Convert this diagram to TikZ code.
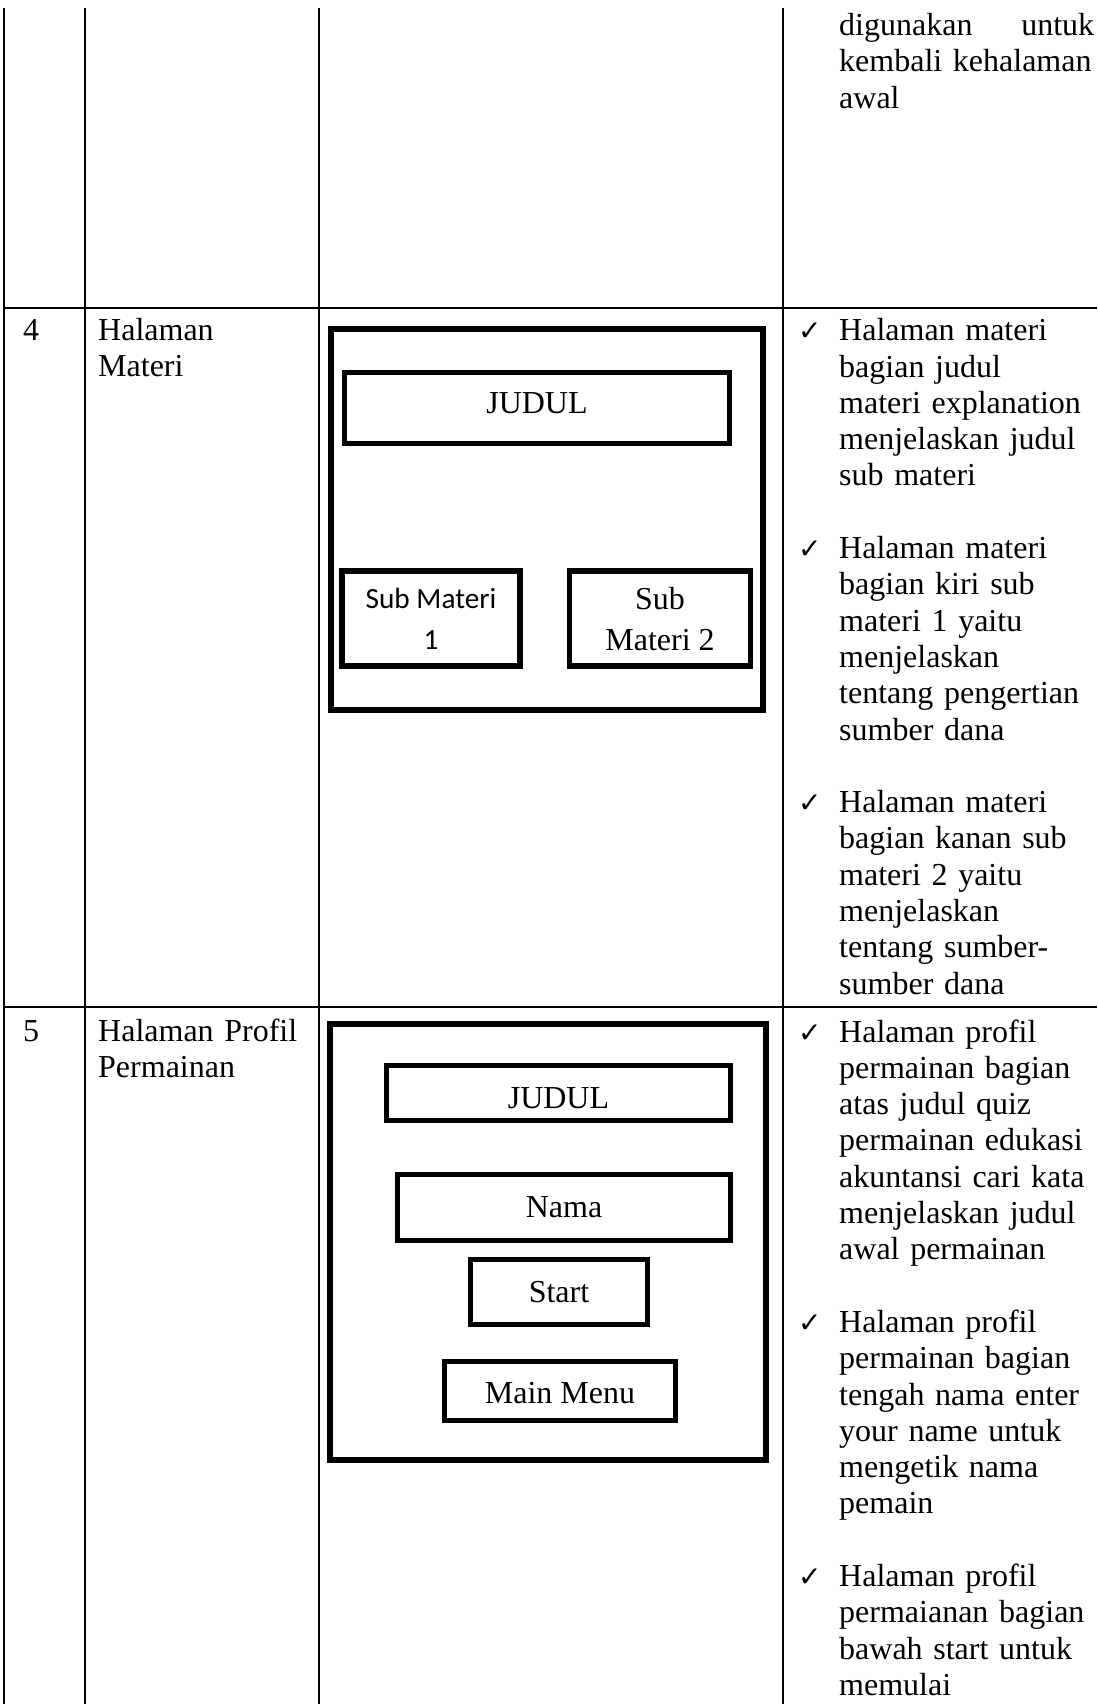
\documentclass[tikz,border=0pt]{standalone}
\usepackage{fontspec}
\setmainfont{Liberation Serif}
\newfontfamily\calibrifont{Carlito}
\newfontfamily\tickfont{DejaVu Sans}

\begin{document}
\begin{tikzpicture}[
  x=1pt, y=-1pt,
  font=\fontsize{32}{36.3}\selectfont,
  gridline/.style={line width=2pt},
  mockbox/.style={draw, line width=5.2pt, inner sep=0pt, text depth=0pt},
  celltext/.style={anchor=base west, text width=215pt, align=left, inner sep=0pt},
  desc/.style={anchor=base west, text width=258pt, align=left, inner sep=0pt},
  tick/.style={anchor=base west, inner sep=0pt,
               font=\tickfont\fontsize{28}{28}\selectfont}
]
  \useasboundingbox (0,0) rectangle (1097,1704);

  \foreach \cx in {4,84.5,319,783} {
    \draw[gridline] (\cx,8) -- (\cx,1704);
  }
  \foreach \ry in {308,1007} {
    \draw[gridline] (4,\ry) -- (1097,\ry);
  }

  \node[desc, text width=255pt] (r3desc) at (839,35.5)
       {digunakan\hfill untuk\\kembali kehalaman\\awal};

  \node[celltext, text width=50pt] (no4) at (23,340) {4};
  \node[celltext] (name4) at (98,340) {Halaman\\Materi};

  \node[mockbox, minimum width=432pt, minimum height=381pt] (r4frame) at (547,519.5) {};
  \node[mockbox, minimum width=385pt, minimum height=71pt,
        text height=21pt, text depth=11pt] (r4judul) at (537,408) {JUDUL};
  \node[mockbox, minimum width=178pt, minimum height=95pt, align=center,
        font=\calibrifont\fontsize{29.3}{41}\selectfont] (sub1) at (431,618.5) {Sub Materi\\1};
  \node[mockbox, minimum width=181pt, minimum height=95pt, align=center,
        font=\fontsize{32}{41}\selectfont] (sub2) at (660,618.5) {Sub\\Materi 2};

  \node[desc] (r4a) at (839,340.7)
       {Halaman materi\\bagian judul\\materi explanation\\menjelaskan judul\\sub materi};
  \node[desc] (r4b) at (839,558.5)
       {Halaman materi\\bagian kiri sub\\materi 1 yaitu\\menjelaskan\\tentang pengertian\\sumber dana};
  \node[desc] (r4c) at (839,812.6)
       {Halaman materi\\bagian kanan sub\\materi 2 yaitu\\menjelaskan\\tentang sumber-\\sumber dana};

  \node[celltext, text width=50pt] (no5) at (23,1041) {5};
  \node[celltext] (name5) at (98,1041) {Halaman Profil\\Permainan};

  \node[mockbox, minimum width=436pt, minimum height=436pt] (r5frame) at (548,1242) {};
  \node[mockbox, minimum width=344pt, minimum height=55pt,
        text height=30pt] (r5judul) at (558.5,1093) {JUDUL};
  \node[mockbox, minimum width=333pt, minimum height=66pt,
        text height=19pt] (nama) at (564,1207.5) {Nama};
  \node[mockbox, minimum width=177pt, minimum height=65pt,
        text height=20pt] (start) at (559,1292) {Start};
  \node[mockbox, minimum width=231pt, minimum height=59pt,
        text height=24pt] (mainmenu) at (560,1391) {Main Menu};

  \node[desc] (r5a) at (839,1042)
       {Halaman profil\\permainan bagian\\atas judul quiz\\permainan edukasi\\akuntansi cari kata\\menjelaskan judul\\awal permainan};
  \node[desc] (r5b) at (839,1332.4)
       {Halaman profil\\permainan bagian\\tengah nama enter\\your name untuk\\mengetik nama\\pemain};
  \node[desc] (r5c) at (839,1586.5)
       {Halaman profil\\permaianan bagian\\bawah start untuk\\memulai};

  \foreach \ty [count=\i] in {340.7,558.5,812.6,1042,1332.4,1586.5} {
    \node[tick] (tick\i) at (798,\ty) {✓};
  }
\end{tikzpicture}
\end{document}
